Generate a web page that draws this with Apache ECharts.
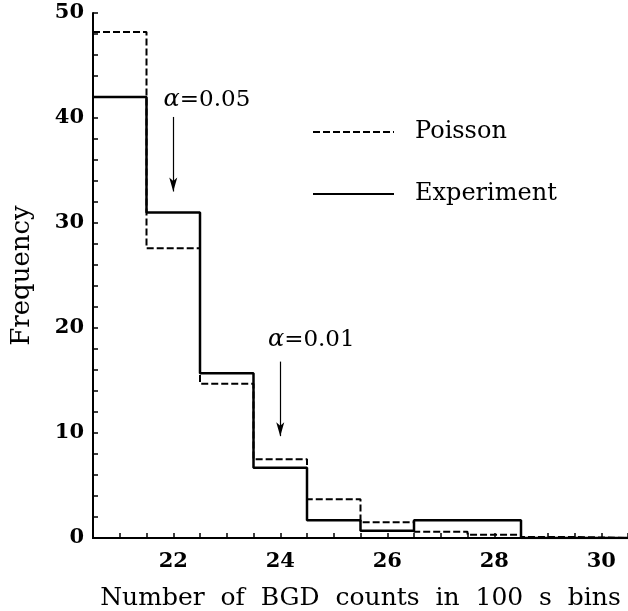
<!DOCTYPE html>
<html>
<head>
<meta charset="utf-8">
<script src="https://cdn.jsdelivr.net/npm/echarts@6/dist/echarts.min.js"></script>
<style>html,body{margin:0;padding:0;background:#fff}#c{width:628px;height:611px}</style>
</head>
<body>
<div id="c"></div>
<script>
// Bin centres (BGD counts per 100 s)
const binCenters = [21, 22, 23, 24, 25, 26, 27, 28, 29, 30];
// Frequencies
const poissonFreq    = [48.2, 27.6, 14.7, 7.5, 3.7, 1.5, 0.6, 0.3, 0.1, 0];
const experimentFreq = [42.0, 31.0, 15.7, 6.7, 1.7, 0.7, 1.7, 1.7, 0, 0];
// Axis tick labels
const xTickLabels = [22, 24, 26, 28, 30];
const yTickLabels = [0, 10, 20, 30, 40, 50];
// Significance annotations (arrow from yFrom down to yTo at x)
const annotationText = ['α=0.05', 'α=0.01'];
const annotationX    = [22, 24];
const arrowFrom      = [40.1, 16.8];
const arrowTo        = [33.0, 9.7];
const labelX         = [22.63, 24.58];
const labelY         = [41.7, 18.9];

function stepData(vals) {
  const pts = binCenters.map((c, i) => [c - 0.5, vals[i]]);
  pts.push([binCenters[binCenters.length - 1] + 0.5, vals[vals.length - 1]]);
  return pts;
}

const FONT = 'DejaVu Serif';
const INK = '#000';
const chart = echarts.init(document.getElementById('c'), null, {renderer: 'canvas'});

const option = {
  animation: false,
  backgroundColor: '#fff',
  grid: {left: 93, right: 0, top: 13, bottom: 73, outerBoundsMode: 'none', containLabel: false},
  legend: {
    orient: 'vertical',
    left: 307,
    top: 115,
    itemWidth: 81,
    itemHeight: 22,
    itemGap: 38,
    itemStyle: {opacity: 0},
    textStyle: {fontFamily: FONT, fontSize: 24, color: INK, padding: [0, 0, 0, 16]},
    data: ['Poisson', 'Experiment']
  },
  xAxis: [{
    type: 'value',
    min: 20.5, max: 30.5, interval: 0.5,
    name: 'Number  of  BGD  counts  in  100  s  bins',
    nameLocation: 'middle',
    nameGap: 48,
    nameTextStyle: {fontFamily: FONT, fontSize: 25, color: INK},
    axisLine: {show: true, onZero: false, lineStyle: {color: INK, width: 2}},
    axisTick: {show: true, inside: true, length: 5, lineStyle: {color: INK, width: 1.5}},
    axisLabel: {
      fontFamily: FONT, fontSize: 21, fontWeight: 'bold', color: INK, margin: 13,
      formatter: v => xTickLabels.includes(v) ? String(v) : ''
    },
    splitLine: {show: false}
  }, {
    type: 'value', position: 'top',
    min: 20.5, max: 30.5,
    axisLine: {show: true, lineStyle: {color: INK, width: 2}},
    axisTick: {show: false}, axisLabel: {show: false}, splitLine: {show: false}
  }],
  yAxis: {
    type: 'value',
    min: 0, max: 50, interval: 2,
    name: 'Frequency',
    nameLocation: 'middle',
    nameGap: 58,
    nameTextStyle: {fontFamily: FONT, fontSize: 26, color: INK},
    axisLine: {show: true, lineStyle: {color: INK, width: 2}},
    axisTick: {show: true, inside: true, length: 5, lineStyle: {color: INK, width: 1.5}},
    axisLabel: {
      fontFamily: FONT, fontSize: 21, fontWeight: 'bold', color: INK, margin: 9,
      formatter: v => yTickLabels.includes(v) ? String(v) : ''
    },
    splitLine: {show: false}
  },
  series: [{
    name: 'Poisson',
    type: 'line',
    step: 'end',
    symbol: 'none',
    data: stepData(poissonFreq),
    lineStyle: {color: INK, width: 2, type: [7, 3]},
    itemStyle: {color: INK},
    z: 3
  }, {
    name: 'Experiment',
    type: 'line',
    step: 'end',
    symbol: 'none',
    data: stepData(experimentFreq),
    lineStyle: {color: INK, width: 2.5},
    itemStyle: {color: INK},
    z: 4,
    markLine: {
      silent: true,
      symbol: ['none', 'arrow'],
      symbolSize: [6, 14],
      label: {show: false},
      lineStyle: {color: INK, width: 1.2, type: 'solid'},
      data: annotationX.map((x, i) => [{coord: [x, arrowFrom[i]]}, {coord: [x, arrowTo[i]]}])
    }
  }, {
    name: 'annotations',
    type: 'scatter',
    symbolSize: 0,
    silent: true,
    itemStyle: {color: INK, opacity: 1},
    data: labelX.map((x, i) => ({value: [x, labelY[i]], name: annotationText[i]})),
    label: {
      show: true,
      position: 'inside',
      opacity: 1,
      textBorderWidth: 0,
      fontFamily: FONT, fontSize: 23, color: INK,
      formatter: p => '{a|α}=' + p.name.split('=')[1],
      rich: {a: {fontFamily: FONT, fontSize: 24, fontStyle: 'italic', color: INK, textBorderWidth: 0}}
    }
  }]
};
chart.setOption(option);
</script>
</body>
</html>
